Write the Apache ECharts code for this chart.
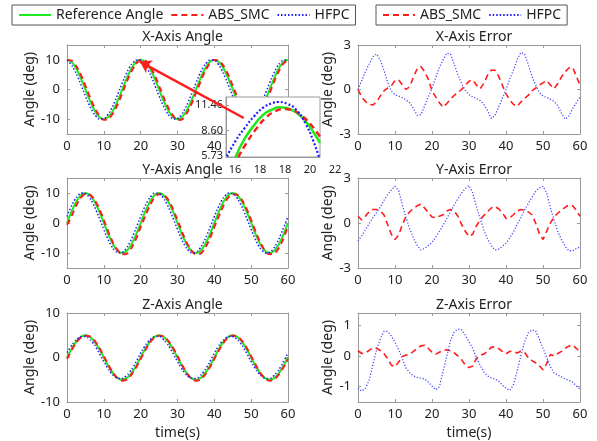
<!DOCTYPE html>
<html>
<head>
<meta charset="utf-8">
<script src="https://cdn.jsdelivr.net/npm/echarts@6/dist/echarts.min.js"></script>
<style>
  html, body { margin: 0; padding: 0; background: #fff; }
  #chart { width: 597px; height: 441px; }
</style>
</head>
<body>
<div id="chart"></div>
<script>
// time axis (s)
var time = [0, 1, 2, 3, 4, 5, 6, 7, 8, 9, 10, 11, 12, 13, 14, 15, 16, 17, 18, 19,
  20, 21, 22, 23, 24, 25, 26, 27, 28, 29, 30, 31, 32, 33, 34, 35, 36, 37, 38, 39,
  40, 41, 42, 43, 44, 45, 46, 47, 48, 49, 50, 51, 52, 53, 54, 55, 56, 57, 58, 59, 60]

// X-Axis Angle
var xRef = [10, 9.51, 8.09, 5.88, 3.09, 0, -3.09, -5.88, -8.09, -9.51, -10, -9.51, -8.09, -5.88, -3.09, 0, 3.09, 5.88, 8.09, 9.51,
  10, 9.51, 8.09, 5.88, 3.09, 0, -3.09, -5.88, -8.09, -9.51, -10, -9.51, -8.09, -5.88, -3.09, 0, 3.09, 5.88, 8.09, 9.51,
  10, 9.51, 8.09, 5.88, 3.09, 0, -3.09, -5.88, -8.09, -9.51, -10, -9.51, -8.09, -5.88, -3.09, 0, 3.09, 5.88, 8.09, 9.51, 10]
var xAbs = [9.92, 9.82, 8.76, 6.85, 4.26, 1.25, -1.87, -4.82, -7.29, -9.15, -10.2, -10.1, -8.9, -6.9, -4.3, -1.25, 1.87, 4.82, 7.29, 9.05,
  9.92, 9.82, 8.76, 6.85, 4.26, 1.25, -1.87, -4.82, -7.29, -9.15, -10.3, -10.2, -8.9, -6.9, -4.3, -1.25, 1.87, 4.82, 7.29, 9.05,
  9.92, 9.82, 8.76, 6.85, 4.26, 1.25, -1.87, -4.82, -7.29, -9.15, -10.2, -10.1, -8.9, -6.9, -4.3, -1.25, 1.87, 4.82, 7.29, 9.05, 9.92]
var xHfpc = [9.9, 8.61, 6.61, 3.97, 0.94, -2.18, -5.09, -7.5, -9.18, -9.96, -9.76, -8.61, -6.61, -3.97, -0.94, 2.18, 5.09, 7.5, 9.18, 9.96,
  9.76, 8.61, 6.61, 3.97, 0.94, -2.18, -5.09, -7.5, -9.18, -9.96, -9.76, -8.61, -6.61, -3.97, -0.94, 2.18, 5.09, 7.5, 9.18, 9.96,
  9.76, 8.61, 6.61, 3.97, 0.94, -2.18, -5.09, -7.5, -9.18, -9.96, -9.76, -8.61, -6.61, -3.97, -0.94, 2.18, 5.09, 7.5, 9.18, 9.96, 9.8]

// Y-Axis Angle
var yRef = [0, 3.09, 5.88, 8.09, 9.51, 10, 9.51, 8.09, 5.88, 3.09, 0, -3.09, -5.88, -8.09, -9.51, -10, -9.51, -8.09, -5.88, -3.09,
  0, 3.09, 5.88, 8.09, 9.51, 10, 9.51, 8.09, 5.88, 3.09, 0, -3.09, -5.88, -8.09, -9.51, -10, -9.51, -8.09, -5.88, -3.09,
  0, 3.09, 5.88, 8.09, 9.51, 10, 9.51, 8.09, 5.88, 3.09, 0, -3.09, -5.88, -8.09, -9.51, -10, -9.51, -8.09, -5.88, -3.09, 0]
var yAbs = [-0.6, 1.6, 4.5, 7.0, 8.8, 9.6, 9.5, 8.5, 6.6, 4.0, 1.0, -2.2, -5.2, -7.7, -9.5, -10.4, -10.3, -9.2, -7.2, -4.5,
  -1.3, 1.6, 4.5, 7.0, 8.8, 9.6, 9.5, 8.5, 6.6, 4.0, 1.0, -2.2, -5.2, -7.7, -9.5, -10.4, -10.3, -9.2, -7.2, -4.5,
  -1.3, 1.6, 4.5, 7.0, 8.8, 9.6, 9.5, 8.5, 6.6, 4.0, 1.0, -2.2, -5.2, -7.7, -9.5, -10.4, -10.3, -9.2, -7.2, -4.5, -0.8]
var yHfpc = [2.18, 5.09, 7.5, 9.18, 9.96, 9.76, 8.61, 6.61, 3.97, 0.94, -2.18, -5.09, -7.5, -9.18, -9.96, -9.76, -8.61, -6.61, -3.97, -0.94,
  2.18, 5.09, 7.5, 9.18, 9.96, 9.76, 8.61, 6.61, 3.97, 0.94, -2.18, -5.09, -7.5, -9.18, -9.96, -9.76, -8.61, -6.61, -3.97, -0.94,
  2.18, 5.09, 7.5, 9.18, 9.96, 9.76, 8.61, 6.61, 3.97, 0.94, -2.18, -5.09, -7.5, -9.18, -9.96, -9.76, -8.61, -6.61, -3.97, -0.94, 2.18]

// Z-Axis Angle
var zRef = [0, 1.55, 2.94, 4.05, 4.76, 5, 4.76, 4.05, 2.94, 1.55, 0, -1.55, -2.94, -4.05, -4.76, -5, -4.76, -4.05, -2.94, -1.55,
  0, 1.55, 2.94, 4.05, 4.76, 5, 4.76, 4.05, 2.94, 1.55, 0, -1.55, -2.94, -4.05, -4.76, -5, -4.76, -4.05, -2.94, -1.55,
  0, 1.55, 2.94, 4.05, 4.76, 5, 4.76, 4.05, 2.94, 1.55, 0, -1.55, -2.94, -4.05, -4.76, -5, -4.76, -4.05, -2.94, -1.55, 0]
var zAbs = [-0.31, 1.24, 2.68, 3.85, 4.6, 4.9, 4.8, 4.22, 3.19, 1.84, 0.31, -1.3, -2.8, -4.0, -4.85, -5.2, -5.05, -4.35, -3.25, -1.9,
  -0.31, 1.24, 2.68, 3.85, 4.6, 4.9, 4.8, 4.22, 3.19, 1.84, 0.31, -1.3, -2.8, -4.0, -4.85, -5.2, -5.05, -4.35, -3.25, -1.9,
  -0.31, 1.24, 2.68, 3.85, 4.6, 4.9, 4.8, 4.22, 3.19, 1.84, 0.31, -1.3, -2.8, -4.0, -4.85, -5.2, -5.05, -4.35, -3.25, -1.9, -0.31]
var zHfpc = [1.1, 2.4, 3.5, 4.3, 4.7, 4.7, 4.2, 3.3, 2.1, 0.6, -0.9, -2.3, -3.5, -4.3, -4.7, -4.7, -4.2, -3.3, -2.1, -0.6,
  1.0, 2.4, 3.5, 4.3, 4.7, 4.7, 4.2, 3.3, 2.1, 0.6, -0.9, -2.3, -3.5, -4.3, -4.7, -4.7, -4.2, -3.3, -2.1, -0.6,
  1.0, 2.4, 3.5, 4.3, 4.7, 4.7, 4.2, 3.3, 2.1, 0.6, -0.9, -2.3, -3.5, -4.3, -4.7, -4.7, -4.2, -3.3, -2.1, -0.6, 1.0]

// X-Axis Error
var xErrAbs = [0, -0.5, -0.8, -1.0, -1.05, -0.85, -0.45, -0.1, 0.1, 0.25, 0.6, 0.65, 0.3, 0, 0.2, 0.85, 1.4, 1.55, 1.2, 0.7,
  -0.1, -0.5, -0.9, -1.2, -0.95, -0.65, -0.4, -0.2, 0, 0.3, 0.55, 0.65, 0.3, 0.05, 0.4, 0.95, 1.3, 1.3, 0.9, 0.3,
  -0.3, -0.7, -1.0, -1.15, -0.85, -0.6, -0.4, -0.1, 0.1, 0.3, 0.45, 0.6, 0.3, 0.05, 0.4, 0.85, 1.2, 1.45, 1.5, 0.9, 0.3]
var xErrHfpc = [0, 0.6, 1.2, 1.7, 2.2, 2.4, 2.0, 1.3, 0.5, -0.1, -0.35, -0.45, -0.55, -0.7, -0.9, -1.3, -1.75, -1.7, -1.1, -0.5,
  0.1, 0.8, 1.5, 2.0, 2.45, 2.4, 1.7, 1.0, 0.4, -0.05, -0.35, -0.5, -0.6, -0.75, -1.0, -1.4, -1.95, -1.75, -1.2, -0.6,
  0, 0.7, 1.3, 2.0, 2.5, 2.4, 1.7, 0.9, 0.3, -0.2, -0.45, -0.55, -0.65, -0.8, -1.1, -1.6, -2.0, -1.8, -1.3, -0.9, -0.5]

// Y-Axis Error
var yErrAbs = [0.45, 0.2, 0.45, 0.75, 0.9, 0.9, 0.8, 0.55, -0.1, -0.75, -1.1, -0.8, -0.1, 0.45, 0.75, 0.95, 1.15, 1.25, 1.0, 0.7,
  0.4, 0.35, 0.45, 0.55, 0.8, 0.9, 0.8, 0.45, -0.1, -0.55, -0.9, -0.75, -0.2, 0.2, 0.5, 0.75, 1.0, 1.1, 0.95, 0.7,
  0.3, 0.35, 0.55, 0.8, 0.9, 0.85, 0.75, 0.55, 0, -0.7, -1.1, -0.55, 0, 0.4, 0.65, 0.85, 1.05, 1.2, 1.15, 0.85, 0.45]
var yErrHfpc = [-1.2, -0.85, -0.45, -0.05, 0.35, 0.7, 1.05, 1.5, 1.9, 2.2, 2.45, 2.15, 1.2, 0.35, -0.4, -1.0, -1.5, -1.8, -1.7, -1.5,
  -1.3, -0.95, -0.55, -0.15, 0.3, 0.75, 1.2, 1.6, 2.0, 2.3, 2.5, 2.0, 1.1, 0.3, -0.45, -1.05, -1.5, -1.8, -1.75, -1.55,
  -1.35, -1.0, -0.6, -0.1, 0.35, 0.85, 1.3, 1.7, 2.1, 2.35, 2.45, 2.0, 1.0, 0.2, -0.6, -1.1, -1.55, -1.85, -1.85, -1.7, -1.6]

// Z-Axis Error
var zErrAbs = [0.17, 0.08, 0.1, 0.18, 0.26, 0.25, 0.18, 0.08, -0.08, -0.3, -0.35, -0.2, -0.02, 0.03, 0.06, 0.15, 0.25, 0.33, 0.35, 0.25,
  0.12, 0.06, 0.12, 0.18, 0.2, 0.17, 0.1, 0, -0.12, -0.3, -0.38, -0.33, -0.08, 0.03, 0.06, 0.15, 0.28, 0.3, 0.24, 0.15,
  0.07, 0.15, 0.14, 0.1, 0.15, 0.12, -0.05, -0.15, -0.22, -0.32, -0.45, -0.25, 0.05, 0, 0.08, 0.15, 0.25, 0.32, 0.36, 0.25, 0.12]
var zErrHfpc = [-1.05, -1.15, -1.05, -0.8, -0.3, 0.2, 0.55, 0.8, 0.8, 0.65, 0.45, 0.2, -0.1, -0.4, -0.55, -0.65, -0.7, -0.72, -0.75, -0.85,
  -0.98, -1.1, -1.0, -0.5, 0, 0.5, 0.78, 0.88, 0.85, 0.68, 0.45, 0.25, -0.05, -0.3, -0.52, -0.65, -0.72, -0.75, -0.82, -0.95,
  -1.05, -1.12, -0.95, -0.5, 0, 0.45, 0.75, 0.85, 0.82, 0.55, 0.25, -0.05, -0.35, -0.55, -0.62, -0.68, -0.75, -0.8, -0.85, -0.98, -1.08]

// zoomed inset near the peak at t = 20 (x in inset units)
var insetRef = [[1.0, 5.6], [2, 7.7], [3, 9.2], [4, 10.4], [5, 11.0], [5.6, 11.2], [6.5, 11.1], [7.5, 10.6], [8.5, 9.6], [9.3, 8.4], [10, 7.2]]
var insetAbs = [[1.3, 5.6], [2.3, 7.4], [3.3, 8.9], [4.3, 10.1], [5.3, 10.8], [6, 11.0], [7, 10.9], [8, 10.3], [9, 9.3], [10, 7.9]]
var insetHfpc = [[0.1, 5.7], [1, 7.4], [2, 8.9], [3, 10.2], [4, 11.2], [5, 11.7], [5.5, 11.8], [6.5, 11.6], [7.5, 10.9], [8.5, 9.3], [9.3, 7.4], [9.9, 5.6]]
var insetXLabels = ['16', '18', '18', '20', '22']
var insetYTicks = [5.73, 8.60, 11.46]

// arrow from inset to the peak, in X-Axis Angle data coords
var arrowFrom = [48, -9.6]
var arrowTo = [19.8, 9.4]

var FONT = 'Noto Sans'
var GREEN = '#1ee81e'
var RED = '#ff1c1c'
var BLUE = '#2020ff'
var FRAME = '#9a9a9a'

var grids = [
  { left: 67, top: 45, width: 221, height: 89 },
  { left: 67, top: 178, width: 221, height: 90 },
  { left: 67, top: 313, width: 221, height: 90 },
  { left: 358, top: 45, width: 222, height: 89 },
  { left: 358, top: 178, width: 222, height: 90 },
  { left: 358, top: 313, width: 222, height: 90 },
  // inset
  { left: 226, top: 97, width: 94, height: 60, show: true, backgroundColor: '#fff', borderColor: FRAME, borderWidth: 1, z: 10 },
  // inset tick label row
  { left: 235, top: 97, width: 100, height: 60, z: 10 }
]

var titles = ['X-Axis Angle', 'Y-Axis Angle', 'Z-Axis Angle', 'X-Axis Error', 'Y-Axis Error', 'Z-Axis Error']
var yRanges = [[-15, 15, [-10, 0, 10]], [-15, 15, [-10, 0, 10]], [-10, 10, [-10, 0, 10]],
  [-3, 3, [-3, 0, 3]], [-3, 3, [-3, 0, 3]], [-1.5, 1.4, [-1, 0, 1]]]

var xAxes = []
var yAxes = []
var titleOpts = []

function baseAxis (gi, pos, showLabel) {
  return {
    type: 'value',
    gridIndex: gi,
    position: pos,
    axisLine: { show: true, onZero: false, lineStyle: { color: FRAME, width: 1 } },
    axisTick: { show: true, inside: true, length: 3, lineStyle: { color: FRAME } },
    axisLabel: { show: showLabel, color: '#222', fontSize: 13, fontFamily: FONT },
    splitLine: { show: false }
  }
}

for (var i = 0; i < 6; i++) {
  var g = grids[i]
  ;['bottom', 'top'].forEach(function (pos) {
    var ax = baseAxis(i, pos, pos === 'bottom')
    ax.min = 0
    ax.max = 60
    ax.interval = 10
    ax.axisLabel.margin = 6
    if (pos === 'bottom' && (i === 2 || i === 5)) {
      ax.name = 'time(s)'
      ax.nameLocation = 'middle'
      ax.nameGap = 24
      ax.nameTextStyle = { color: '#222', fontSize: 14, fontFamily: FONT }
    }
    xAxes.push(ax)
  })
  ;['left', 'right'].forEach(function (pos) {
    var ax = baseAxis(i, pos, pos === 'left')
    ax.min = yRanges[i][0]
    ax.max = yRanges[i][1]
    ax.axisTick.customValues = yRanges[i][2]
    ax.axisLabel.customValues = yRanges[i][2]
    ax.axisLabel.margin = 7
    if (pos === 'left') {
      ax.name = 'Angle (deg)'
      ax.nameLocation = 'middle'
      ax.nameGap = i < 3 ? 26 : 19
      ax.nameTextStyle = { color: '#222', fontSize: 14, fontFamily: FONT }
    }
    yAxes.push(ax)
  })
  titleOpts.push({
    text: titles[i],
    left: g.left + g.width / 2,
    top: g.top - 20,
    textAlign: 'center',
    textStyle: { color: '#222', fontSize: 14, fontWeight: 'normal', fontFamily: FONT }
  })
}

// inset axes (x index 12, y index 12)
var insX = baseAxis(6, 'bottom', false)
insX.min = 0
insX.max = 10
insX.axisTick.show = false
insX.z = 12
xAxes.push(insX)
var insY = baseAxis(6, 'left', true)
insY.min = 5.62
insY.max = 12.36
insY.axisTick.customValues = insetYTicks
insY.axisLabel.customValues = insetYTicks
insY.axisLabel.formatter = function (v) { return v.toFixed(2) }
insY.axisLabel.fontSize = 11
insY.axisLabel.margin = 3
insY.z = 12
yAxes.push(insY)
// inset label row (x index 13, y index 13)
xAxes.push({
  type: 'category',
  gridIndex: 7,
  data: insetXLabels,
  boundaryGap: false,
  axisLine: { show: false },
  axisTick: { show: false },
  axisLabel: { color: '#222', fontSize: 11, fontFamily: FONT, margin: 7 },
  z: 12
})
yAxes.push({ type: 'value', gridIndex: 7, show: false })

function pairs (vals) {
  return time.map(function (t, k) { return [t, vals[k]] })
}

function angleSeries (gi, ref, abs, hfpc) {
  return [
    { name: 'Reference Angle', type: 'line', xAxisIndex: gi * 2, yAxisIndex: gi * 2, data: pairs(ref),
      smooth: true, showSymbol: false, symbol: 'none', lineStyle: { color: GREEN, width: 2 }, itemStyle: { color: GREEN } },
    { name: 'ABS_SMC', type: 'line', xAxisIndex: gi * 2, yAxisIndex: gi * 2, data: pairs(abs),
      smooth: true, showSymbol: false, symbol: 'none', lineStyle: { color: RED, width: 2, type: [6, 4] }, itemStyle: { color: RED } },
    { name: 'HFPC', type: 'line', xAxisIndex: gi * 2, yAxisIndex: gi * 2, data: pairs(hfpc),
      smooth: true, showSymbol: false, symbol: 'none', lineStyle: { color: BLUE, width: 1.5, type: [1.5, 2] }, itemStyle: { color: BLUE } }
  ]
}

function errorSeries (gi, abs, hfpc) {
  return [
    { name: 'ABS_SMC', type: 'line', xAxisIndex: gi * 2, yAxisIndex: gi * 2, data: pairs(abs),
      showSymbol: false, symbol: 'none', lineStyle: { color: RED, width: 1.6, type: [6, 4] }, itemStyle: { color: RED } },
    { name: 'HFPC', type: 'line', xAxisIndex: gi * 2, yAxisIndex: gi * 2, data: pairs(hfpc),
      showSymbol: false, symbol: 'none', lineStyle: { color: '#4a4aff', width: 1.3, type: [1.2, 1.8] }, itemStyle: { color: BLUE } }
  ]
}

var series = [].concat(
  angleSeries(0, xRef, xAbs, xHfpc),
  angleSeries(1, yRef, yAbs, yHfpc),
  angleSeries(2, zRef, zAbs, zHfpc),
  errorSeries(3, xErrAbs, xErrHfpc),
  errorSeries(4, yErrAbs, yErrHfpc),
  errorSeries(5, zErrAbs, zErrHfpc),
  [
    { name: 'Reference Angle', type: 'line', xAxisIndex: 12, yAxisIndex: 12, data: insetRef, z: 12,
      smooth: true, showSymbol: false, symbol: 'none', lineStyle: { color: GREEN, width: 2.5 } },
    { name: 'ABS_SMC', type: 'line', xAxisIndex: 12, yAxisIndex: 12, data: insetAbs, z: 12,
      smooth: true, showSymbol: false, symbol: 'none', lineStyle: { color: RED, width: 2.5, type: [6, 4] } },
    { name: 'HFPC', type: 'line', xAxisIndex: 12, yAxisIndex: 12, data: insetHfpc, z: 12,
      smooth: true, showSymbol: false, symbol: 'none', lineStyle: { color: BLUE, width: 2.2, type: [2, 2] } },
    { name: 'arrow', type: 'line', xAxisIndex: 0, yAxisIndex: 0, data: [], z: 30, silent: true,
      markLine: {
        z: 30, silent: true, symbol: ['none', 'arrow'], symbolSize: 11,
        lineStyle: { color: RED, width: 2.5, type: 'solid' },
        label: { show: false },
        data: [[{ coord: arrowFrom }, { coord: arrowTo }]]
      } }
  ]
)

var legendBase = {
  top: 5,
  itemWidth: 32,
  itemHeight: 10,
  itemGap: 7,
  borderColor: '#555',
  borderWidth: 1,
  borderRadius: 0,
  padding: [3, 6],
  itemStyle: { opacity: 0 },
  textStyle: { color: '#222', fontSize: 14, fontFamily: FONT }
}

var option = {
  animation: false,
  backgroundColor: '#fff',
  textStyle: { fontFamily: FONT },
  title: titleOpts,
  legend: [
    Object.assign({}, legendBase, { left: 12, data: ['Reference Angle', 'ABS_SMC', 'HFPC'] }),
    Object.assign({}, legendBase, { left: 376, data: ['ABS_SMC', 'HFPC'] })
  ],
  grid: grids,
  xAxis: xAxes,
  yAxis: yAxes,
  series: series
}

var myChart = echarts.init(document.getElementById('chart'), null, { renderer: 'canvas', devicePixelRatio: 1 })
myChart.setOption(option)
</script>
</body>
</html>
